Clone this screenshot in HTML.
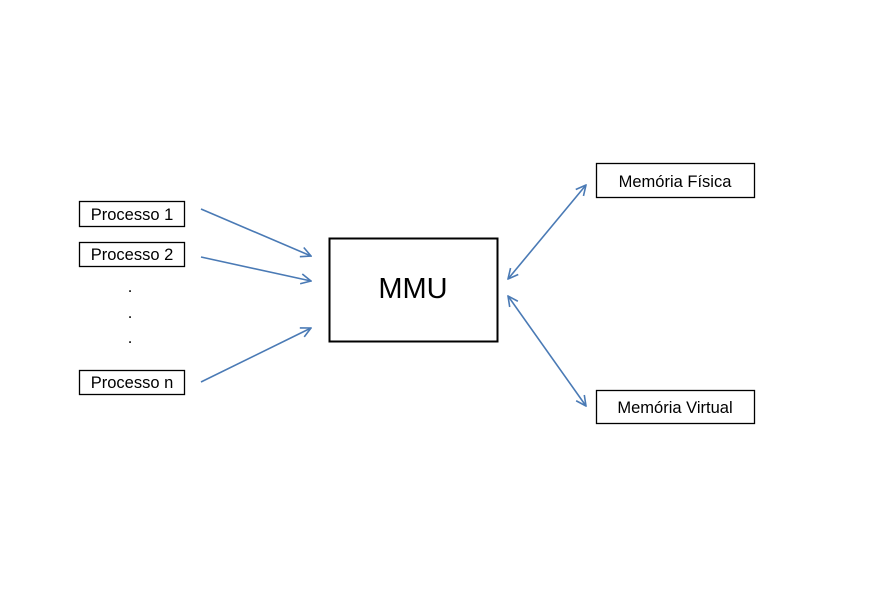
<!DOCTYPE html>
<html><head><meta charset="utf-8"><style>
body{margin:0;background:#fff;width:893px;height:592px;overflow:hidden;font-family:"Liberation Sans",sans-serif}
</style></head><body>
<svg width="893" height="592" xmlns="http://www.w3.org/2000/svg" font-family="Liberation Sans, sans-serif">
<defs>
<marker id="a" viewBox="0 0 12 12" refX="11" refY="6" markerWidth="12" markerHeight="12" markerUnits="userSpaceOnUse" orient="auto-start-reverse">
<path d="M1,1 L11,6 L1,11" fill="none" stroke="#4a7ab5" stroke-width="1.6"/>
</marker>
</defs>
<g fill="#fff" stroke="#000" stroke-width="1.3">
<rect x="79.5" y="201.5" width="105" height="25"/>
<rect x="79.5" y="242.5" width="105" height="24"/>
<rect x="79.5" y="370.5" width="105" height="24"/>
<rect x="596.5" y="163.5" width="158" height="34"/>
<rect x="596.5" y="390.5" width="158" height="33"/>
</g>
<rect x="329.5" y="238.5" width="168" height="103" fill="#fff" stroke="#000" stroke-width="2"/>
<g font-size="16.5" fill="#000" text-anchor="middle">
<text x="132" y="220">Processo 1</text>
<text x="132" y="260">Processo 2</text>
<text x="132" y="388">Processo n</text>
<text x="675" y="187">Memória Física</text>
<text x="675" y="413">Memória Virtual</text>
<text x="413" y="298" font-size="29">MMU</text>
<text x="130" y="292">.</text>
<text x="130" y="318">.</text>
<text x="130" y="343">.</text>
</g>
<g stroke="#4a7ab5" stroke-width="1.6" fill="none">
<line x1="201" y1="209" x2="311" y2="256" marker-end="url(#a)"/>
<line x1="201" y1="257" x2="311" y2="281" marker-end="url(#a)"/>
<line x1="201" y1="382" x2="311" y2="328" marker-end="url(#a)"/>
<line x1="508" y1="279" x2="586" y2="185" marker-start="url(#a)" marker-end="url(#a)"/>
<line x1="508" y1="296" x2="586" y2="406" marker-start="url(#a)" marker-end="url(#a)"/>
</g>
</svg>
</body></html>
